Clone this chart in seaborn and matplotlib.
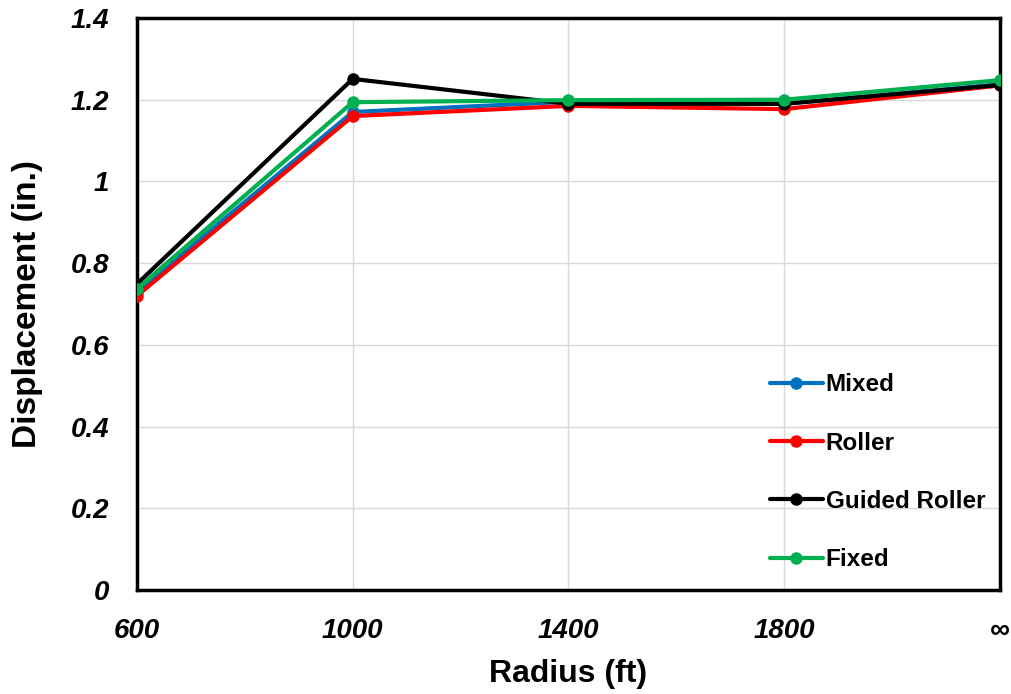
import pandas as pd
import numpy as np
import matplotlib.pyplot as plt
import seaborn as sns

# Chart values
radius_labels = ['600', '1000', '1400', '1800', '\u221e']
mixed = [0.730, 1.170, 1.195, 1.190, 1.238]
roller = [0.720, 1.160, 1.185, 1.177, 1.235]
guided_roller = [0.749, 1.251, 1.190, 1.190, 1.236]
fixed = [0.737, 1.194, 1.199, 1.200, 1.248]

series_names = ['Mixed', 'Roller', 'Guided Roller', 'Fixed']
series_colors = ['#0070C0', '#FF0000', '#000000', '#00B050']


# Function to build long dataframe
def build_data():
    '''return: long dataframe with one row per point'''
    rows = []
    for name, vals in zip(series_names, [mixed, roller, guided_roller, fixed]):
        for i, v in enumerate(vals):
            rows.append({'pos': i, 'value': v, 'support': name})
    return pd.DataFrame(rows)


data = build_data()

sns.set_style('white')
plt.rcParams['font.family'] = ['Liberation Sans', 'DejaVu Sans']
plt.rcParams['text.color'] = 'black'
plt.rcParams['axes.labelcolor'] = 'black'
plt.rcParams['xtick.color'] = 'black'
plt.rcParams['ytick.color'] = 'black'

fig = plt.figure(figsize=(10.11, 6.94), dpi=100)
ax = fig.add_axes([0.1355, 0.150, 0.8535, 0.824])

sns.lineplot(data=data, x='pos', y='value', hue='support', hue_order=series_names,
             palette=series_colors, marker='o', markersize=9, markeredgewidth=0,
             linewidth=3, ax=ax, zorder=3)

ax.set_xlim(0, 4)
ax.set_ylim(0, 1.4)
ax.set_xticks(range(len(radius_labels)))
ax.set_xticklabels(radius_labels)
ax.set_yticks(np.arange(0, 1.41, 0.2))
ax.set_yticklabels(['0', '0.2', '0.4', '0.6', '0.8', '1', '1.2', '1.4'])
for lab in ax.get_xticklabels() + ax.get_yticklabels():
    lab.set_fontweight('bold')
    lab.set_fontstyle('italic')
    lab.set_fontsize(20)
ax.tick_params(axis='x', length=0, pad=20)
ax.tick_params(axis='y', length=0, pad=20)

ax.grid(True, color='#d9d9d9', linewidth=1)
ax.set_axisbelow(True)
for sp in ax.spines.values():
    sp.set_color('black')
    sp.set_linewidth(2.5)

ax.set_xlabel('Radius (ft)', fontsize=23, fontweight='bold', labelpad=11)
ax.set_ylabel('Displacement (in.)', fontsize=24, fontweight='bold', labelpad=20)

leg = ax.legend(loc='lower left', bbox_to_anchor=(0.722, 0.016), frameon=False,
                prop={'weight': 'bold', 'size': 17.5}, handlelength=2.2,
                labelspacing=1.45, handletextpad=0.1, borderaxespad=0)

fig.savefig('out.png', dpi=100)
